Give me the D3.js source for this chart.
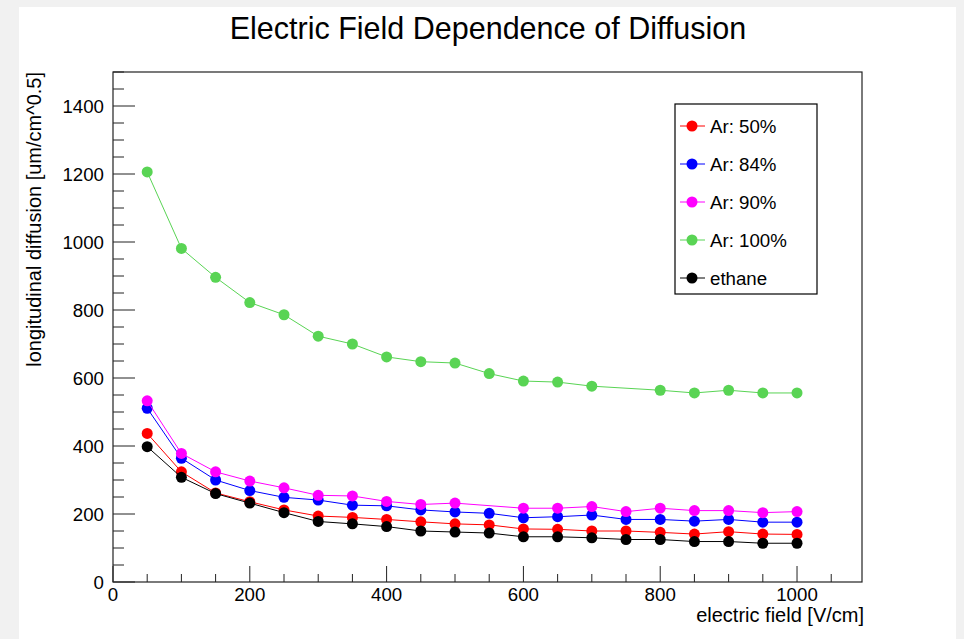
<!DOCTYPE html>
<html>
<head>
<meta charset="utf-8">
<script src="https://cdn.jsdelivr.net/npm/d3@7"></script>
<style>
  html, body { margin: 0; padding: 0; background: #f1f1f1; }
  svg { display: block; }
  text { font-family: "Liberation Sans", Arial, Helvetica, sans-serif; fill: #000; }
</style>
</head>
<body>
<svg id="chart" width="964" height="639"></svg>
<script>
// ---- data ----
const fields = [50,100,150,200,250,300,350,400,450,500,550,600,650,700,750,800,850,900,950,1000];
const ar50   = [437,324,262,236,212,194,190,184,177,171,168,156,155,150,150,146,141,148,141,140];
const ar84   = [511,364,300,269,249,241,226,224,212,206,202,189,192,197,184,184,179,184,176,176];
const ar90   = [533,378,324,297,277,255,253,237,228,232,null,217,217,222,207,217,210,210,204,207];
const ar100  = [1206,981,896,822,786,723,700,662,648,644,613,591,588,576,null,564,556,564,556,556];
const ethane = [398,308,260,232,204,178,171,163,150,147,144,133,133,130,125,125,119,119,114,114];

const seriesNames  = ["Ar: 50%","Ar: 84%","Ar: 90%","Ar: 100%","ethane"];
const seriesValues = [ar50, ar84, ar90, ar100, ethane];
const seriesColors = ["#ff0000","#0000ff","#ff00ff","#59d454","#000000"];

const xTicks = [0,200,400,600,800,1000];
const yTicks = [0,200,400,600,800,1000,1200,1400];
const xDomain = [0,1095];
const yDomain = [0,1500];

const titleText = "Electric Field Dependence of Diffusion";
const xLabel = "electric field [V/cm]";
const yLabel = "longitudinal diffusion [um/cm^0.5]";

// ---- layout ----
const svg = d3.select("#chart");
svg.append("rect").attr("x",19).attr("y",7).attr("width",937).attr("height",640).attr("fill","#fff");

const L = 113, R = 862, T = 72, B = 582;
const x = d3.scaleLinear().domain(xDomain).range([L, R]);
const y = d3.scaleLinear().domain(yDomain).range([B, T]);

// title
svg.append("text").attr("x",488).attr("y",39).attr("text-anchor","middle")
  .attr("font-size",30.5).text(titleText);

// frame
svg.append("rect").attr("x",L).attr("y",T).attr("width",R-L).attr("height",B-T)
  .attr("fill","none").attr("stroke","#222").attr("stroke-width",1.2);

// x axis ticks (inward, pointing up)
const xMinor = d3.range(0, 1095, 50);
const gx = svg.append("g");
gx.selectAll("line").data(xMinor).join("line")
  .attr("x1", d => x(d)).attr("x2", d => x(d))
  .attr("y1", B).attr("y2", d => B - (d % 200 === 0 ? 16 : 8))
  .attr("stroke","#222").attr("stroke-width",1);
gx.selectAll("text").data(xTicks).join("text")
  .attr("x", d => x(d)).attr("y", 601).attr("text-anchor","middle")
  .attr("font-size",18.7).text(d => d);

// y axis ticks (inward, pointing right)
const yMinor = d3.range(0, 1501, 50);
const gy = svg.append("g");
gy.selectAll("line").data(yMinor).join("line")
  .attr("y1", d => y(d)).attr("y2", d => y(d))
  .attr("x1", L).attr("x2", d => L + (d % 200 === 0 ? 22 : 11))
  .attr("stroke","#222").attr("stroke-width",1);
gy.selectAll("text").data(yTicks).join("text")
  .attr("x", 104).attr("y", d => y(d)).attr("dy","0.36em").attr("text-anchor","end")
  .attr("font-size",18.7).text(d => d);

// axis titles
svg.append("text").attr("x",R + 2).attr("y",622).attr("text-anchor","end")
  .attr("font-size",20).text(xLabel);
svg.append("text").attr("transform",`translate(41,${T}) rotate(-90)`).attr("text-anchor","end")
  .attr("font-size",20).text(yLabel);

// series
const line = d3.line().x(d => x(d[0])).y(d => y(d[1]));
seriesValues.forEach((vals, i) => {
  const pts = fields.map((f, j) => [f, vals[j]]).filter(p => p[1] !== null);
  const g = svg.append("g");
  g.append("path").attr("d", line(pts)).attr("fill","none")
    .attr("stroke", seriesColors[i]).attr("stroke-width",1);
  g.selectAll("circle").data(pts).join("circle")
    .attr("cx", d => x(d[0])).attr("cy", d => y(d[1])).attr("r",5.5)
    .attr("fill", seriesColors[i]);
});

// legend
const lg = svg.append("g");
lg.append("rect").attr("x",675).attr("y",104).attr("width",142).attr("height",190)
  .attr("fill","#fff").attr("stroke","#000").attr("stroke-width",1.2);
seriesNames.forEach((name, i) => {
  const cy = 126 + i * 38;
  lg.append("line").attr("x1",680).attr("x2",705).attr("y1",cy).attr("y2",cy)
    .attr("stroke", seriesColors[i]).attr("stroke-width",1);
  lg.append("circle").attr("cx",692).attr("cy",cy).attr("r",5.5).attr("fill",seriesColors[i]);
  lg.append("text").attr("x",710).attr("y",cy).attr("dy","0.36em")
    .attr("font-size",18.7).text(name);
});
</script>
</body>
</html>
